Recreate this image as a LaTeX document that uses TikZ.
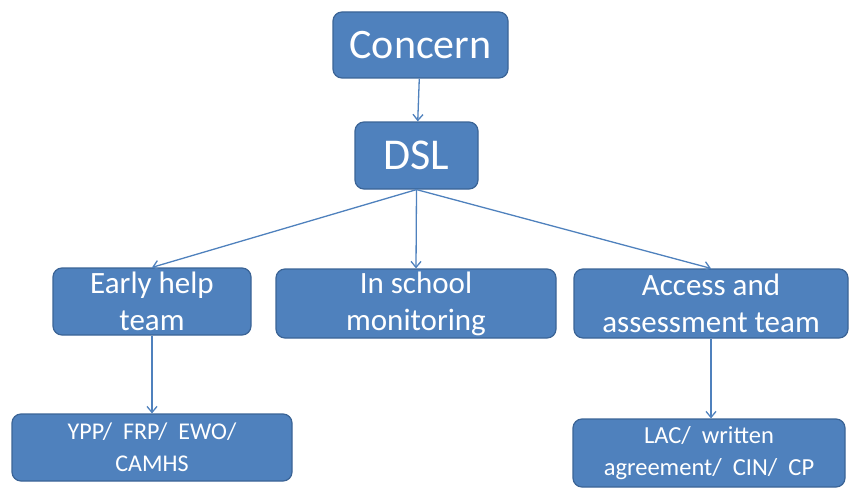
\documentclass[tikz,border=0pt]{standalone}
\usepackage{fontspec}
\setmainfont{Carlito}
\usetikzlibrary{arrows.meta}
\definecolor{boxblue}{HTML}{4F81BD}
\definecolor{boxedge}{HTML}{3B6496}
\begin{document}
\begin{tikzpicture}[x=1pt, y=-1pt, >={Straight Barb[length=6pt,width=10pt]},
    box/.style={draw=boxedge, line width=1.2pt, fill=boxblue, rounded corners=9pt,
        text=white, align=center, inner sep=0pt},
    arr/.style={->, draw=boxblue, line width=1.3pt}]
\useasboundingbox (0,0) rectangle (849,495);
\node[box, minimum width=175, minimum height=66, font=\fontsize{42}{48}\selectfont] (concern) at (420.5,45) {Concern};
\node[box, minimum width=123, minimum height=67, font=\fontsize{44}{48}\selectfont] (dsl) at (416.5,155.5) {DSL};

\node[box, minimum width=198, minimum height=67, font=\fontsize{31}{37}\selectfont] (early) at (152,301.5) {Early help\\team};
\node[box, minimum width=280, minimum height=69, font=\fontsize{31}{37}\selectfont] (school) at (416,303.5) {In school\\monitoring};
\node[box, minimum width=274, minimum height=69, font=\fontsize{31}{37}\selectfont] (access) at (711,303.5) {Access and\\assessment team};

\node[box, minimum width=280, minimum height=67, font=\fontsize{24}{32}\selectfont] (ypp) at (152,447.5) {YPP/~ FRP/~ EWO/\\CAMHS};
\node[box, minimum width=272, minimum height=68, font=\fontsize{24.5}{32}\selectfont] (lac) at (709,453) {LAC/~ written\\agreement/~ CIN/~ CP};

\draw[arr] (concern) -- (dsl);
\foreach \t in {early, school, access}
{
    \draw[arr] (dsl.south) -- (\t.north);
}
\draw[arr] (early) -- (early |- ypp.north);
\draw[arr] (access) -- (access |- lac.north);
\end{tikzpicture}
\end{document}
